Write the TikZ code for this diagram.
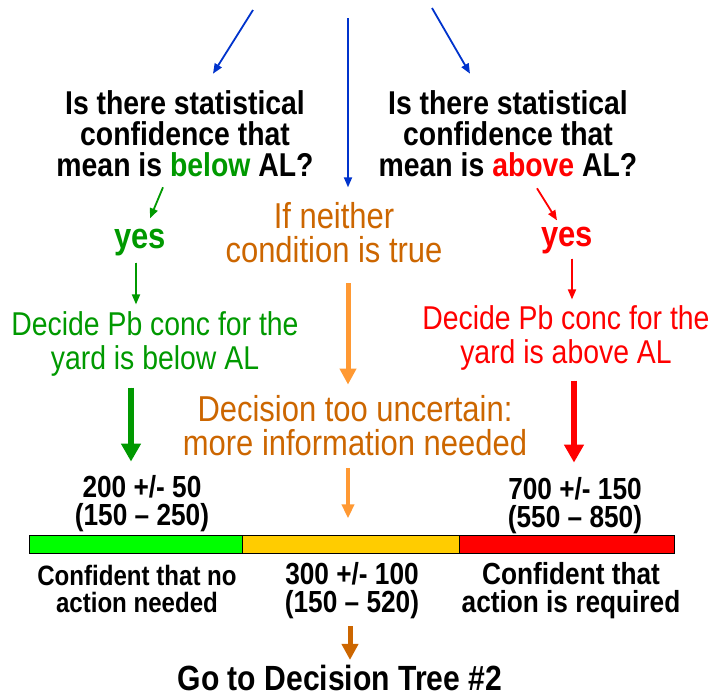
\documentclass[tikz,border=0pt]{standalone}
\usepackage{fontspec}
\setmainfont{Liberation Sans}[FakeStretch=0.86]
\usetikzlibrary{arrows.meta,calc}
\definecolor{qblue}{HTML}{0033CC}
\definecolor{dgreen}{HTML}{009900}
\definecolor{brown}{HTML}{CC6600}
\definecolor{lorange}{HTML}{FF9933}
\definecolor{bgreen}{HTML}{00FF00}
\definecolor{byellow}{HTML}{FFCC00}
\begin{document}
\begin{tikzpicture}[x=1pt,y=-1pt,
  txt/.style={inner sep=0pt,align=center},
  qtext/.style={txt,font=\bfseries\fontsize{33}{31}\selectfont},
  dtext/.style={txt,font=\fontsize{33}{34}\selectfont},
  ntext/.style={txt,font=\fontsize{36}{34}\selectfont},
  ytext/.style={txt,font=\bfseries\fontsize{36}{30}\selectfont},
  vtext/.style={txt,font=\bfseries\fontsize{30.5}{28}\selectfont},
  thin arrow/.style={line width=1.8pt,-{Triangle[width=8pt,length=10pt]}},
  fat arrow/.style={line width=5.5pt,-{Triangle[width=19pt,length=18pt]}},
  mid arrow/.style={line width=5pt,-{Triangle[width=16pt,length=16pt]}},
  bar/.style={draw=black,line width=0.8pt,minimum height=18pt,inner sep=0pt}
]
\useasboundingbox (0,0) rectangle (713,697);

% questions
\node[qtext] (q1) at (185,134) {Is there statistical\\confidence that\\mean is \textcolor{dgreen}{below} AL?};
\node[qtext] (q2) at (508,134) {Is there statistical\\confidence that\\mean is \textcolor{red}{above} AL?};

% top blue arrows
\coordinate (t1) at (253,10);
\coordinate (t2) at (348,18);
\coordinate (t3) at (432,8);
\draw[thin arrow,draw=qblue,fill=qblue] (t1) -- ($(q1.north)+(28,-17)$);
\draw[thin arrow,draw=qblue,fill=qblue] (t2) -- ($(t2 |- q1.south)+(0,10)$);
\draw[thin arrow,draw=qblue,fill=qblue] (t3) -- ($(q2.north)+(-38,-17)$);

% left branch
\node[ytext,text=dgreen] (y1) at (140,243) {yes};
\node[dtext,text=dgreen] (d1) at (155,344) {Decide Pb conc for the\\yard is below AL};
\draw[thin arrow,draw=dgreen,fill=dgreen] ($(q1.south)+(-22,10)$) -- ($(y1.north)+(10,-11)$);
\draw[thin arrow,draw=dgreen,fill=dgreen] ($(y1.south)+(-4,6)$) -- ($(d1.north)+(-19,-7)$);
\draw[fat arrow,draw=dgreen,fill=dgreen] ($(d1.south)+(-24,11)$) -- ($(d1.south)+(-24,85)$);

% middle branch
\node[ntext,text=brown] (n1) at (334,233) {If neither\\condition is true};
\node[ntext,text=brown] (n2) at (355,426) {Decision too uncertain:\\more information needed};
\draw[mid arrow,draw=lorange,fill=lorange] ($(n1.south)+(14,20)$) -- ($(n2.north)+(-7,-11)$);
\draw[line width=3.5pt,draw=lorange,fill=lorange,-{Triangle[width=12pt,length=14pt]}] ($(n2.south)+(-7,12)$) -- ($(n2.south)+(-7,62)$);

% right branch
\node[ytext,text=red] (y2) at (567,241) {yes};
\node[dtext,text=red] (d2) at (566,338) {Decide Pb conc for the\\yard is above AL};
\draw[thin arrow,draw=red,fill=red] ($(q2.south)+(29,11)$) -- ($(y2.north)+(-10,-7)$);
\draw[thin arrow,draw=red,fill=red] ($(y2.south)+(5,4)$) -- ($(d2.north)+(6,-6)$);
\draw[fat arrow,draw=red,fill=red] ($(d2.south)+(8,10)$) -- ($(d2.south)+(8,92)$);

% values above bar
\node[vtext] (v1) at (142,504) {200 +/- 50\\(150 -- 250)};
\node[vtext] (v3) at (575,506) {700 +/- 150\\(550 -- 850)};

% bar
\node[bar,fill=bgreen,minimum width=213pt] (b1) at (135.5,544) {};
\node[bar,fill=byellow,minimum width=217pt] (b2) at (350.5,544) {};
\node[bar,fill=red,minimum width=215pt] (b3) at (566.5,544) {};

% below bar
\node[vtext,font=\bfseries\fontsize{28}{27}\selectfont] (c1) at (137,589) {Confident that no\\action needed};
\node[vtext] (v2) at (352,591) {300 +/- 100\\(150 -- 520)};
\node[vtext] (c3) at (571,591) {Confident that\\action is required};

% final
\node[txt,font=\bfseries\fontsize{35}{30}\selectfont] (g) at (340,678) {Go to Decision Tree \#2};
\draw[mid arrow,draw=brown,fill=brown] ($(v2.south)+(-2,7)$) -- ($(g.north)+(10,-5)$);
\end{tikzpicture}
\end{document}
